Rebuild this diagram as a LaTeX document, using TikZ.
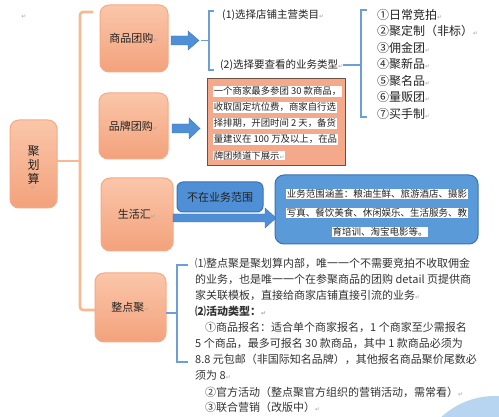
\documentclass[tikz,border=0pt]{standalone}
\usepackage{fontspec}
\setmainfont{Noto Sans CJK SC}
\newfontfamily\dejavu{DejaVu Sans}
\definecolor{otop}{HTML}{FAC6A9}
\definecolor{obot}{HTML}{F3A27C}
\definecolor{obord}{HTML}{F5A985}
\definecolor{oline}{HTML}{F7B894}
\definecolor{barrow}{HTML}{4F8FD6}
\definecolor{bborder}{HTML}{3B72B5}
\definecolor{bbox}{HTML}{5A9AD8}
\definecolor{bbrack}{HTML}{6A9FD8}
\definecolor{salmon}{HTML}{F4A98A}
\definecolor{sbord}{HTML}{6A5048}
\definecolor{txt}{HTML}{222222}
\definecolor{lblue}{HTML}{B7D4F0}
\newcommand\retmark{{\dejavu\fontsize{6}{6}\selectfont\color{gray!70}↵}}
\begin{document}
\begin{tikzpicture}[x=1pt,y=-1pt,
  orangebox/.style={rectangle, rounded corners=9pt, draw=obord, line width=1pt,
    top color=otop, bottom color=obot, inner sep=0pt, outer sep=0pt, text=txt,
    font=\fontsize{11}{13}\selectfont},
  obrack/.style={draw=oline, line width=2.6pt, rounded corners=3pt},
  bbr/.style={draw=bbrack, line width=1.2pt},
  barr/.style={fill=barrow, draw=bborder, line width=0.4pt},
  txtline/.style={anchor=base west, inner sep=0pt, text=txt},
  hl/.style={fill=white, inner sep=0.6pt, text=txt},
  vch/.style={inner sep=0pt, text=txt, font=\fontsize{12}{13}\selectfont},
]
\useasboundingbox (0,0) rectangle (499,417);
\fill[white] (0,0) rectangle (499,417);
\begin{scope}
\clip (0,0) rectangle (499,417);
\fill[lblue] (495,475) circle (79);
\end{scope}

% stray paragraph mark
\node[inner sep=0pt] (pm) at (24,17) {\retmark};

% orange bracket
\coordinate (ot) at (93,12);
\coordinate (ob) at (95,310);
\coordinate (oj) at (80,161);
\draw[obrack] (ot) -- (80,12) -- (80,310) -- (ob);

% main nodes
\node[orangebox, minimum width=47pt, minimum height=88pt] (jhs) at (33.5,164) {};
\node[vch] (c1) at (33.5,151) {聚};
\node[vch] (c2) at (33.5,165) {划};
\node[vch] (c3) at (33.5,179) {算};
\node[inner sep=0pt] (c4) at (33.5,188) {\retmark};
\draw[obrack] (jhs.east |- oj) -- (oj);

\node[orangebox, minimum width=68pt, minimum height=67pt] (sp) at (134,38.5) {商品团购\retmark};
\node[orangebox, minimum width=69pt, minimum height=66pt] (pp) at (133.5,126) {品牌团购\retmark};
\node[orangebox, minimum width=72pt, minimum height=73pt] (sh) at (137,214.5) {生活汇\retmark};
\node[orangebox, minimum width=71pt, minimum height=69pt] (zd) at (130.5,307.5) {整点聚\retmark};

% block arrows
\draw[barr] (171,36) -- (188,36) -- (188,31) -- (199,40.5) -- (188,50) -- (188,45) -- (171,45) -- cycle;
\draw[barr] (172,124) -- (189,124) -- (189,118) -- (200,128.5) -- (189,139) -- (189,133) -- (172,133) -- cycle;
\draw[barr] (173,214) -- (265,214) -- (265,208) -- (276,218) -- (265,228) -- (265,222) -- (173,222) -- cycle;

% bracket 1 (商品团购)
\draw[bbr] (214,11) -- (209,11) -- (209,70) -- (214,70);
\draw[bbr] (209,40.5) -- (201,40.5);
\node[txtline, font=\fontsize{10.5}{12}\selectfont] (s1) at (222,19) {(1)选择店铺主营类目\retmark};
\node[txtline, font=\fontsize{10.5}{12}\selectfont] (s2) at (220,69) {(2)选择要查看的业务类型\retmark};

% bracket 2 (list)
\coordinate (b2m) at (361,65);
\draw[bbr] (367,10) -- (361,10) -- (361,117) -- (367,117);
\draw[bbr] (s2.east |- b2m) -- (b2m);
\foreach \t [count=\i] in {①日常竞拍, ②聚定制（非标）, ③佣金团, ④聚新品, ⑤聚名品, ⑥量贩团, ⑦买手制}{
  \node[txtline, font=\fontsize{12}{14}\selectfont] (li\i) at (377, {19.5+16.5*(\i-1)}) {\t\retmark};
}

% 品牌团购 text box
\node[draw=sbord, line width=0.9pt, fill=salmon, minimum width=138pt, minimum height=87pt,
  inner sep=0pt] (ppbox) at (276,121.5) {};
\begin{scope}[every node/.style={hl, anchor=west, font=\fontsize{9.4}{11}\selectfont}]
\node (p1) at (213,91.5) {一个商家最多参团 30 款商品，};
\node (p2) at (213,107.5) {收取固定坑位费，商家自行选};
\node (p3) at (213,123.5) {择排期，开团时间 2 天，备货};
\node (p4) at (213,139.5) {量建议在 100 万及以上，在品};
\node (p5) at (213,155.5) {牌团频道下展示\retmark};
\end{scope}

% 生活汇 boxes
\node[rectangle, rounded corners=9pt, fill=bbox, draw=bborder, line width=1pt,
  minimum width=203pt, minimum height=69pt, inner sep=0pt] (scope) at (376.5,209.5) {};
\node[rectangle, rounded corners=6pt, fill=barrow, draw=bborder, line width=1pt,
  minimum width=86pt, minimum height=30pt, inner sep=0pt, text=txt,
  font=\fontsize{11}{13}\selectfont] (notin) at (220,197) {不在业务范围};
\begin{scope}[every node/.style={hl, font=\fontsize{9.5}{11}\selectfont}]
\node (q1) at (377,194) {业务范围涵盖：粮油生鲜、旅游酒店、摄影};
\node (q2) at (377,213) {写真、餐饮美食、休闲娱乐、生活服务、教};
\node (q3) at (380,232) {育培训、淘宝电影等。};
\end{scope}

% bracket 3 (整点聚)
\coordinate (b3m) at (177,313);
\draw[bbr] (188,265) -- (177,265) -- (177,362) -- (188,362);
\draw[bbr] (zd.east |- b3m) -- (b3m);
\begin{scope}[every node/.style={txtline, font=\fontsize{11}{13}\selectfont, text=black!80}]
\node (z1) at (195,268) {⑴整点聚是聚划算内部，唯一一个不需要竞拍不收取佣金};
\node (z2) at (195,284) {的业务，也是唯一一个在参聚商品的团购 detail 页提供商};
\node (z3) at (195,300) {家关联模板，直接给商家店铺直接引流的业务\retmark};
\node[font=\fontsize{11}{13}\selectfont\bfseries] (z4) at (195,316) {⑵活动类型：\retmark};
\node (z5) at (205,332) {①商品报名：适合单个商家报名，1 个商家至少需报名};
\node (z6) at (195,348) {5 个商品，最多可报名 30 款商品，其中 1 款商品必须为};
\node (z7) at (195,364) {8.8 元包邮（非国际知名品牌），其他报名商品聚价尾数必};
\node (z8) at (195,380) {须为 8\retmark};
\node (z9) at (205,396) {②官方活动（整点聚官方组织的营销活动，需常看）\retmark};
\node (z10) at (205,412) {③联合营销（改版中）\retmark};
\end{scope}
\end{tikzpicture}
\end{document}
